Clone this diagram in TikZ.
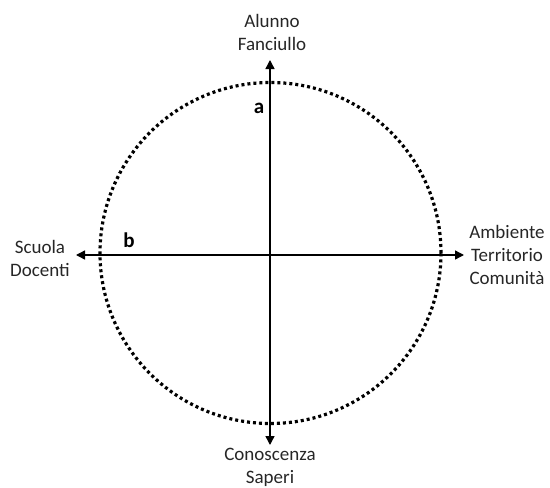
\documentclass[tikz,border=0pt]{standalone}
\usepackage{fontspec}
\setmainfont{Carlito}
\usetikzlibrary{arrows.meta}
\begin{document}
\begin{tikzpicture}[x=1pt,y=-1pt,
  lbl/.style={font=\fontsize{19}{23}\selectfont, align=center, text=black!85, inner sep=0pt},
  letter/.style={font=\fontsize{21}{23}\selectfont\bfseries, inner sep=0pt},
  axis/.style={line width=1.4pt, {Triangle[length=9pt,width=9pt]}-{Triangle[length=9pt,width=9pt]}},
  dotring/.style={line width=3.2pt, dash pattern=on 3pt off 3pt}]
\useasboundingbox (0,0) rectangle (550,488);
\node[minimum size=341pt, inner sep=0pt, circle, dotring, draw] (ring) at (270.5,253) {};
\coordinate (N) at (270,60);
\coordinate (S) at (270,445);
\coordinate (W) at (76,255);
\coordinate (E) at (464,255);
\draw[axis] (S) -- (N);
\draw[axis] (W) -- (E);
\node[lbl] (top) at (272,32) {Alunno\\Fanciullo};
\node[lbl] (bottom) at (270,467) {Conoscenza\\Saperi};
\node[lbl] (left) at (40,258) {Scuola\\Docenti};
\node[lbl] (right) at (507,255) {Ambiente\\Territorio\\Comunità};
\node[letter] (a) at (259,108) {a};
\node[letter] (b) at (129,240) {b};
\end{tikzpicture}
\end{document}
